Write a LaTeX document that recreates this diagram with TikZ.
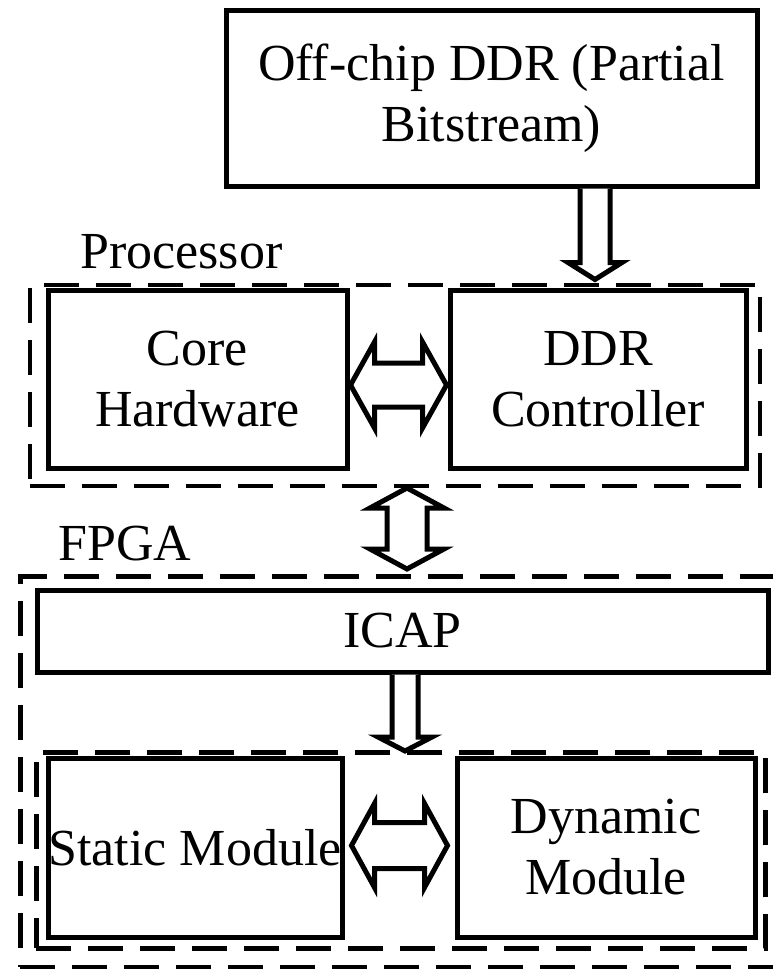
\documentclass[tikz,border=0pt]{standalone}
\usepackage{fontspec}
\setmainfont{Liberation Serif}
\usetikzlibrary{calc}
\tikzset{
  solidbox/.style={draw, line width=5pt, fill=white, align=center, inner sep=0pt,
    font=\fontsize{52}{61}\selectfont},
  dashbox/.style={draw, line width=4.5pt, dash pattern=on 35pt off 17pt, inner sep=0pt},
  fatarrow/.style={draw, line width=5pt, fill=white, line join=miter},
  lbl/.style={font=\fontsize{52}{61}\selectfont, inner sep=0pt, anchor=base west}
}
% vertical single down arrow: #1 start, #2 tip, #3 shaft half, #4 head half, #5 head length
\newcommand\fatdownarrow[5]{%
  \draw[fatarrow] ($(#1)+(-#3,0)$) -- ($(#2)+(-#3,-#5)$) -- ($(#2)+(-#4,-#5)$) -- (#2)
    -- ($(#2)+(#4,-#5)$) -- ($(#2)+(#3,-#5)$) -- ($(#1)+(#3,0)$);}
% vertical double arrow: #1 top tip, #2 bottom tip
\newcommand\fatvdouble[5]{%
  \draw[fatarrow] (#1) -- ($(#1)+(#4,#5)$) -- ($(#1)+(#3,#5)$) -- ($(#2)+(#3,-#5)$)
    -- ($(#2)+(#4,-#5)$) -- (#2) -- ($(#2)+(-#4,-#5)$) -- ($(#2)+(-#3,-#5)$)
    -- ($(#1)+(-#3,#5)$) -- ($(#1)+(-#4,#5)$) -- cycle;}
% horizontal double arrow: #1 left tip, #2 right tip
\newcommand\fathdouble[5]{%
  \draw[fatarrow] (#1) -- ($(#1)+(#5,-#4)$) -- ($(#1)+(#5,-#3)$) -- ($(#2)+(-#5,-#3)$)
    -- ($(#2)+(-#5,-#4)$) -- (#2) -- ($(#2)+(-#5,#4)$) -- ($(#2)+(-#5,#3)$)
    -- ($(#1)+(#5,#3)$) -- ($(#1)+(#5,#4)$) -- cycle;}
\begin{document}
\begin{tikzpicture}[x=1pt,y=-1pt]
\useasboundingbox (0,0) rectangle (773,969);
\clip (0,0) rectangle (773,969);
\fill[white] (0,0) rectangle (773,969);

% dashed containers
\node[dashbox, minimum width=730pt, minimum height=201pt] (proc) at (395,282.5) [anchor=north] {};
\node[dashbox, minimum width=780pt, minimum height=391pt, anchor=north west] (fpga) at (18,574) {};
\node[dashbox, minimum width=729pt, minimum height=196pt, anchor=north west] (modreg) at (34,750) {};

% labels
\node[lbl] (proclbl) at (80,268) {Processor};
\node[lbl] (fpgalbl) at (58,560) {FPGA};

% solid boxes
\node[solidbox, minimum width=531pt, minimum height=176pt] (ddr) at (491.5,98) {Off-chip DDR (Partial\\Bitstream)};
\node[solidbox, minimum width=299pt, minimum height=178pt] (core) at (197.5,379) {Core\\Hardware};
\node[solidbox, minimum width=296pt, minimum height=178pt] (ctrl) at (598,379) {DDR\\Controller};
\node[solidbox, minimum width=731pt, minimum height=82pt] (icap) at (402.5,631) {ICAP};
\node[solidbox, minimum width=294pt, minimum height=179pt] (static) at (195,847.5) {Static Module};
\node[solidbox, minimum width=298pt, minimum height=179pt] (dyn) at (606,847.5) {Dynamic\\Module};

% arrow end points
\coordinate (a1s) at ($(ddr.south -| ctrl.north)+(-3,0)$);
\coordinate (a1e) at ($(proc.north -| ctrl.north)+(-3,-3)$);
\coordinate (a2l) at ($(core.east)+(1,6)$);
\coordinate (a2r) at ($(ctrl.west)+(-1,6)$);
\coordinate (a3t) at ($(proc.south -| icap.north)+(4.5,0)$);
\coordinate (a3b) at ($(fpga.north -| icap.north)+(4.5,-5)$);
\coordinate (a4s) at ($(icap.south)+(2.5,0)$);
\coordinate (a4e) at ($(modreg.north -| icap.south)+(2.5,1)$);
\coordinate (a5l) at ($(static.east)+(7,-2)$);
\coordinate (a5r) at ($(dyn.west)+(-7,-2)$);

% arrows
\fatdownarrow{a1s}{a1e}{15}{27}{17}
\fathdouble{a2l}{a2r}{22}{43}{24}
\fatvdouble{a3t}{a3b}{20}{37}{20}
\fatdownarrow{a4s}{a4e}{13}{27}{14}
\fathdouble{a5l}{a5r}{23}{42}{23}
\end{tikzpicture}
\end{document}
